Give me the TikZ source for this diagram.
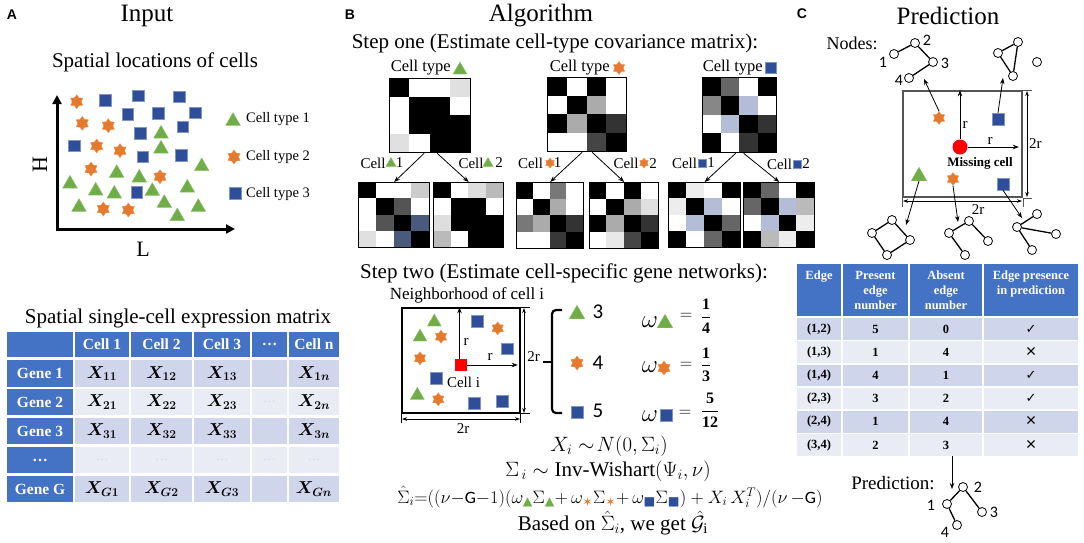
\documentclass[tikz,border=0pt]{standalone}
\usepackage{amsmath,bm}
\usepackage{fontspec}
\setmainfont{Liberation Serif}
\newfontfamily\sansf{Liberation Sans}
\newfontfamily\calib{Carlito}
\newfontfamily\symf{DejaVu Sans}
\usetikzlibrary{arrows.meta,shapes.geometric,calc}
\definecolor{tgreen}{HTML}{70AD47}
\definecolor{torange}{HTML}{E57A2E}
\definecolor{tblue}{HTML}{2F4E9A}
\definecolor{hblue}{HTML}{4472C4}
\definecolor{rdark}{HTML}{CFD5EA}
\definecolor{rlight}{HTML}{E9EBF5}
\definecolor{bgray}{HTML}{B3BED6}
\definecolor{slate}{HTML}{4A5A7C}
\definecolor{dimg}{HTML}{555555}
\definecolor{dotg}{HTML}{D4D7E6}
\newcommand\fsz[1]{\fontsize{#1}{#1}\selectfont}
\newcommand\Gtri{\text{\symf\textcolor{tgreen}{▲}}}
\newcommand\Ostar{\text{\symf\textcolor{torange}{✶}}}
\newcommand\Bsq{\text{\symf\textcolor{tblue}{■}}}
\newcommand\Gs{\text{\calib G}}
\newcommand\Xb[1]{$\bm{X_{#1}}$}
\newcommand\dotsg{\textcolor{dotg}{\fsz{13}…}}
\newcommand\ck{{\symf\mdseries\fsz{13}✓}}
\newcommand\xx{{\sansf\mdseries\fsz{18}×}}
\newcommand\covmat[6]{%
  \foreach \mcol [count=\k from 0] in {#6} {%
    \pgfmathsetmacro\mcx{#2+mod(\k,4)*#4/4}%
    \pgfmathsetmacro\mcy{#3+floor(\k/4)*#5/4}%
    \fill[\mcol] (\mcx,\mcy) rectangle ++({#4/4},{#5/4});
  }%
  \node[draw,line width=1.3,inner sep=0,minimum width=#4,minimum height=#5,anchor=north west] (#1) at (#2,#3) {};
}
\newcommand\rowA[8]{%
  \node[hcell,minimum width=66,minimum height=26.5] (A#1-0) at (40,#2) {#3};
  \node[dcell,fill=#4,minimum width=54,minimum height=26.5] (A#1-1) at (102,#2) {#5};
  \node[dcell,fill=#4,minimum width=61,minimum height=26.5] (A#1-2) at (161.5,#2) {#6};
  \node[dcell,fill=#4,minimum width=56,minimum height=26.5] (A#1-3) at (222,#2) {#7};
  \node[dcell,fill=#4,minimum width=35,minimum height=26.5] (A#1-4) at (269.5,#2) {\dotsg};
  \node[dcell,fill=#4,minimum width=50,minimum height=26.5] (A#1-5) at (314,#2) {#8};
}
\newcommand\rowC[7]{%
  \node[ccell,fill=#3,minimum width=44] (C#1-1) at (819,#2) {#4};
  \node[ccell,fill=#3,minimum width=65] (C#1-2) at (875.5,#2) {#5};
  \node[ccell,fill=#3,minimum width=72] (C#1-3) at (946,#2) {#6};
  \node[ccell,fill=#3,minimum width=94] (C#1-4) at (1031,#2) {#7};
}
\begin{document}
\begin{tikzpicture}[x=1pt,y=-1pt,
  tcell/.style={regular polygon,regular polygon sides=3,fill=tgreen,draw=tgreen!75!white,line width=0.4,inner sep=0,minimum size=#1,yshift={-#1/8}},
  tcell/.default=17,
  ocell/.style={star,star points=6,star point ratio=1.55,fill=torange,draw=torange!80!white,line width=0.4,inner sep=0,minimum size=#1},
  ocell/.default=14,
  bcell/.style={rectangle,fill=tblue,draw=tblue!60!white,line width=0.5,inner sep=0,minimum size=#1},
  bcell/.default=11.5,
  arr/.style={-{Stealth[length=6pt,width=4.5pt]},line width=0.8},
  dimline/.style={{Stealth[length=5pt,width=3.5pt]}-{Stealth[length=5pt,width=3.5pt]},line width=0.7},
  gnode/.style={circle,draw,fill=white,minimum size=9,inner sep=0,line width=0.8},
  gedge/.style={line width=1.3},
  hcell/.style={fill=hblue,inner sep=0,text=white,font=\bfseries\fsz{15.5}},
  dcell/.style={inner sep=0,font=\fsz{18}},
  ccell/.style={inner sep=0,minimum height=21.5,font=\bfseries\fsz{12.5}},
  ctext/.style={inner sep=0,text=white,align=center,font=\bfseries\fontsize{12.5}{15}\selectfont},
  glab/.style={inner sep=0,font=\calib\fsz{16}},
  lab/.style={inner sep=0,font=\fsz{15}},
  body/.style={font=\fsz{21}},
]
\fill[white] (0,0) rectangle (1084,542);
\useasboundingbox (0,0) rectangle (1084,542);

%================ Panel A ================
\node[font=\sansf\bfseries\fsz{14}] (lA) at (12,15) {A};
\node[font=\fsz{25}] (tA) at (147,16) {Input};
\node[body] (sA) at (155,62) {Spatial locations of cells};
\coordinate (ao) at (57,229);
\coordinate (ay) at (57,95);
\coordinate (ax) at (235,229);
\draw[line width=3,{Triangle[length=9pt,width=9pt]}-{Triangle[length=9pt,width=9pt]}] (ay) -- (ao) -- (ax);
\node[font=\fsz{22},rotate=90] (H) at (40,165) {H};
\node[font=\fsz{22}] (L) at (143,249) {L};
\foreach \x/\y [count=\i] in {76.7/101.7,82.3/123.3,108.3/125.7,96.7/146,120/150.7,91/169,160/176.7,103.3/209,128.3/210}
  \node[ocell] (aS\i) at (\x,\y) {};
\foreach \x/\y [count=\i] in {105.3/100,138.3/95.7,179/96.7,127.7/114,158.3/113.3,195/112.7,182.7/126.7,140/133.3,74.3/145.7,142.7/156.7,181/155,136.7/192.3}
  \node[bcell] (aQ\i) at (\x,\y) {};
\foreach \x/\y [count=\i] in {161/131.7,161/146.7,201.7/164.3,116.7/171,139.3/175.7,70/181.7,95.7/188.7,114.3/191.7,152.3/189,187.3/185.7,79/205,164.3/201,177.3/214.3,198.3/205}
  \node[tcell] (aT\i) at (\x,\y) {};
\node[tcell] (lg1) at (233,119) {};
\node[ocell] (lg2) at (234,157) {};
\node[bcell] (lg3) at (235,193) {};
\node[font=\fsz{14.5},anchor=west,inner sep=0] (lt1) at (246,119) {Cell type 1};
\node[font=\fsz{14.5},anchor=west,inner sep=0] (lt2) at (246,157) {Cell type 2};
\node[font=\fsz{14.5},anchor=west,inner sep=0] (lt3) at (246,194) {Cell type 3};

% table A
\node[body] (tabAt) at (178,318) {Spatial single-cell expression matrix};
\node[hcell,minimum width=66,minimum height=25] (A0-0) at (40,344.5) {};
\node[hcell,minimum width=54,minimum height=25] (A0-1) at (102,344.5) {Cell 1};
\node[hcell,minimum width=61,minimum height=25] (A0-2) at (161.5,344.5) {Cell 2};
\node[hcell,minimum width=56,minimum height=25] (A0-3) at (222,344.5) {Cell 3};
\node[hcell,minimum width=35,minimum height=25] (A0-4) at (269.5,344.5) {…};
\node[hcell,minimum width=50,minimum height=25] (A0-5) at (314,344.5) {Cell n};
\rowA{1}{373.5}{Gene 1}{rdark}{\Xb{11}}{\Xb{12}}{\Xb{13}}{\Xb{1n}}
\rowA{2}{402}{Gene 2}{rlight}{\Xb{21}}{\Xb{22}}{\Xb{23}}{\Xb{2n}}
\rowA{3}{431}{Gene 3}{rdark}{\Xb{31}}{\Xb{32}}{\Xb{33}}{\Xb{3n}}
\rowA{4}{460}{…}{rlight}{\dotsg}{\dotsg}{\dotsg}{\dotsg}
\rowA{5}{489}{Gene G}{rdark}{\Xb{G1}}{\Xb{G2}}{\Xb{G3}}{\Xb{Gn}}

%================ Panel B ================
\node[font=\sansf\bfseries\fsz{14}] (lB) at (350,15) {B};
\node[font=\fsz{25}] (tB) at (541,16) {Algorithm};
\node[body] (s1) at (555,43) {Step one (Estimate cell-type covariance matrix):};

% triangle type
\node[font=\fsz{16.5},anchor=east,inner sep=0] (ctl1) at (451,68) {Cell type};
\node[tcell=16] (ctt1) at (460,68) {};
\covmat{mT}{389}{78}{81}{74}{black,white,white,black!12,white,black,black,white,white,black,black,black,black!12,white,black,black}
\covmat{mT1}{358}{182}{71}{65}{black,white,white,black!20,white,black,black!67,white,white,black!67,black,slate,black!12,white,slate,black}
\covmat{mT2}{433}{182}{70}{65}{black,white,black!13,black!27,white,black,black,white,black!13,black,black,black,black!27,white,black,black}
\draw[arr] ([xshift=-6pt]mT.south) -- (mT1.north);
\draw[arr] ([xshift=7pt]mT.south) -- (mT2.north);
\node[lab] (cT1a) at (373,163) {Cell};
\node[tcell=12] (cT1b) at (391,162) {};
\node[lab] (cT1c) at (399.5,163) {1};
\node[lab] (cT2a) at (471,163) {Cell};
\node[tcell=12] (cT2b) at (488,162) {};
\node[lab] (cT2c) at (499,163) {2};

% star type
\node[font=\fsz{16.5},anchor=east,inner sep=0] (ctl2) at (610,68) {Cell type};
\node[ocell=13] (ctt2) at (619,68) {};
\covmat{mS}{547}{77}{79}{74}{black,white,black,white,white,black,black!33,white,black,black!33,black,black!80,white,white,black!73,black}
\covmat{mS1}{516}{182}{67}{66}{black,white,black!53,white,white,black,black!33,white,black!53,black!33,black,black!80,white,white,black!78,black}
\covmat{mS2}{589}{182}{69}{66}{black,white,black,white,white,black,black!33,black!12,black,black!33,black,black!80,white,black!9,black!73,black}
\draw[arr] ([xshift=-5pt]mS.south) -- (mS1.north);
\draw[arr] ([xshift=5pt]mS.south) -- (mS2.north);
\node[lab] (cS1a) at (530.5,163) {Cell};
\node[ocell=10] (cS1b) at (550,163) {};
\node[lab] (cS1c) at (557.5,163) {1};
\node[lab] (cS2a) at (626,163) {Cell};
\node[ocell=10] (cS2b) at (644,163) {};
\node[lab] (cS2c) at (653,163.5) {2};

% square type
\node[font=\fsz{16.5},anchor=east,inner sep=0] (ctl3) at (763,68) {Cell type};
\node[bcell=11] (ctt3) at (771,68) {};
\covmat{mQ}{702}{77}{74}{75}{black,black!60,white,black,black!47,black,bgray,white,white,bgray,black,black!80,black,white,black!80,black}
\covmat{mQ1}{668}{182}{72}{65}{black,black!7,white,black,black!7,black,bgray,white,white,bgray,black,black!60,black,white,black!60,black}
\covmat{mQ2}{743}{182}{71}{65}{black,black!60,white,black,black!60,black,bgray,black!27,white,bgray,black,black!7,black,black!27,black!7,black}
\draw[arr] ([xshift=-4pt]mQ.south) -- (mQ1.north);
\draw[arr] ([xshift=4pt]mQ.south) -- (mQ2.north);
\node[lab] (cQ1a) at (684.5,163) {Cell};
\node[bcell=8] (cQ1b) at (702,163) {};
\node[lab] (cQ1c) at (711,163) {1};
\node[lab] (cQ2a) at (779.5,164) {Cell};
\node[bcell=8] (cQ2b) at (797,164) {};
\node[lab] (cQ2c) at (806,164) {2};

% step two
\node[body] (s2) at (564,273) {Step two (Estimate cell-specific gene networks):};
\node[font=\fsz{17}] (nb) at (467,295) {Neighborhood of cell i};
\node[draw,line width=1.4,minimum width=118,minimum height=105,inner sep=0] (nbox) at (461,360.5) {};
\foreach \x/\y [count=\i] in {434.3/320,420/335,417.3/393.3}
  \node[tcell=16] (bT\i) at (\x,\y) {};
\foreach \x/\y [count=\i] in {441/336.7,420/358.3,438.3/399.3,497.7/328.3}
  \node[ocell=13] (bS\i) at (\x,\y) {};
\foreach \x/\y [count=\i] in {477.3/321,507.3/348.7,436/378.3,474.3/403.3,502.3/401}
  \node[bcell] (bQ\i) at (\x,\y) {};
\node[fill=red,minimum size=12,inner sep=0] (ci) at (461,365) {};
\draw[arr] ([xshift=-1.5pt]ci.north) -- ([xshift=-1.5pt]ci.north |- nbox.north);
\draw[arr] (ci.east) -- ([xshift=-3pt]ci.east -| nbox.east);
\node[lab] (br1) at (466,342) {r};
\node[lab] (br2) at (490,357) {r};
\node[lab] (bci) at (463.5,382) {Cell i};
\coordinate (bd1) at (524,308);
\coordinate (bd2) at (524,413);
\draw[line width=0.6] (nbox.north east) -- ++(9,0);
\draw[line width=0.6] (nbox.south east) -- ++(9,0);
\draw[dimline] (bd1) -- (bd2);
\node[lab] (b2r1) at (533.5,357) {2r};
\coordinate (bd3) at (402,419);
\coordinate (bd4) at (520,419);
\draw[line width=0.6] (nbox.south west) -- ++(0,9);
\draw[line width=0.6] (nbox.south east) -- ++(0,9);
\draw[dimline] (bd3) -- (bd4);
\node[lab] (b2r2) at (463,429) {2r};
% brace
\coordinate (brt) at (562,310);
\coordinate (brb) at (562,413);
\coordinate (brm) at (543,362);
\draw[line width=2.2,rounded corners=4] (brt) -- (552,310) -- (552,413) -- (brb);
\draw[line width=2.2] (552,362) -- (brm);
\node[tcell=18] (kT) at (577,312) {};
\node[ocell=14] (kS) at (577,363) {};
\node[bcell=12] (kQ) at (577,412) {};
\node[glab,font=\calib\fsz{21}] (kn1) at (598,312) {3};
\node[glab,font=\calib\fsz{21}] (kn2) at (598,363) {4};
\node[glab,font=\calib\fsz{21}] (kn3) at (598,411) {5};
% omegas
\node[font=\fsz{24},anchor=base,inner sep=0] (w1) at (650,327) {$\omega$};
\node[tcell=18] (w1s) at (665,321) {};
\node[font=\fsz{18}] (w1e) at (686,316) {$=$};
\node[font=\fsz{16}] (w1f) at (706,316) {$\displaystyle\frac{\mathbf{1}}{\mathbf{4}}$};
\node[font=\fsz{24},anchor=base,inner sep=0] (w2) at (650,372) {$\omega$};
\node[ocell=14] (w2s) at (664,368) {};
\node[font=\fsz{18}] (w2e) at (686,365) {$=$};
\node[font=\fsz{16}] (w2f) at (706,365) {$\displaystyle\frac{\mathbf{1}}{\mathbf{3}}$};
\node[font=\fsz{24},anchor=base,inner sep=0] (w3) at (650,421) {$\omega$};
\node[bcell=12] (w3s) at (666,415) {};
\node[font=\fsz{18}] (w3e) at (685,413) {$=$};
\node[font=\fsz{16}] (w3f) at (710,410) {$\displaystyle\frac{\mathbf{5}}{\mathbf{12}}$};
% formulas
\node[body,inner sep=0] (f1) at (609,446) {$X_i \sim\! N(0,\Sigma_i)$};
\node[body,inner sep=0] (f2) at (608,471) {$\Sigma_{\,i}\sim\text{Inv-Wishart}(\Psi_i,\nu)$};
\node[font=\fsz{20},inner sep=0] (f3) at (610,497) {\resizebox{425pt}{17pt}{$\hat{\Sigma}_i{=}((\nu{-}\Gs{-}1)(\omega_{\Gtri}\Sigma_{\Gtri}{+}\,\omega_{\Ostar}\Sigma_{\Ostar}{+}\,\omega_{\Bsq}\Sigma_{\Bsq})+X_i\,X_i^T)/(\nu\,{-}\Gs)$}};
\node[body,inner sep=0] (f4) at (613,523) {Based on $\hat{\Sigma}_i$, we get $\hat{\mathcal{G}}_{\mathrm{i}}$};

%================ Panel C ================
\node[font=\sansf\bfseries\fsz{14}] (lC) at (802,14) {C};
\node[font=\fsz{25}] (tC) at (948,16) {Prediction};
\node[font=\fsz{18}] (nodesl) at (852,43) {Nodes:};
% graph 1 (top left)
\foreach \n/\x/\y in {1/894/54,2/915/43,3/933/62,4/909/78}
  \node[gnode] (g1n\n) at (\x,\y) {};
\draw[gedge] (g1n1) -- (g1n2) -- (g1n3) -- (g1n4);
\node[glab] (g1l1) at (883,62) {1};
\node[glab] (g1l2) at (927,40) {2};
\node[glab] (g1l3) at (945,63) {3};
\node[glab] (g1l4) at (899,80) {4};
% graph 2 (top right)
\foreach \n/\x/\y in {1/998/53,2/1018/42,3/1013/76,4/1037/62}
  \node[gnode] (g2n\n) at (\x,\y) {};
\draw[gedge] (g2n1) -- (g2n2) -- (g2n3) -- (g2n1);
% box
\node[draw=dimg,line width=1.6,minimum width=119,minimum height=106,inner sep=0] (cbox) at (962.5,144) {};
\node[circle,fill=red,minimum size=15,inner sep=0] (mc) at (960,147) {};
\draw[arr] (mc.north) -- (mc.north |- cbox.north);
\draw[arr] (mc.east) -- ([xshift=-4pt]mc.east -| cbox.east);
\node[lab] (cr1) at (965,125) {r};
\node[lab] (cr2) at (990,141) {r};
\node[inner sep=0,font=\bfseries\fsz{13}] (mcl) at (980,163) {Missing cell};
\coordinate (cd1) at (1027,91);
\coordinate (cd2) at (1027,197);
\draw[line width=0.6,dimg] (cbox.north east) -- ++(9,0);
\draw[line width=0.6,dimg] (cbox.south east) -- ++(9,0);
\draw[dimline] (cd1) -- (cd2);
\node[lab,anchor=west] (c2r1) at (1029,144) {2r};
\coordinate (cd3) at (903,201);
\coordinate (cd4) at (1022,201);
\draw[line width=0.6,dimg] (cbox.south west) -- ++(0,9);
\draw[line width=0.6,dimg] (cbox.south east) -- ++(0,9);
\draw[dimline] (cd3) -- (cd4);
\node[lab] (c2r2) at (978,210) {2r};
\node[ocell=13] (cs1) at (939,118) {};
\node[bcell=12] (cq1) at (998,119) {};
\node[tcell=18] (ct1) at (919,174) {};
\node[ocell=13] (cs2) at (953,179) {};
\node[bcell=12] (cq2) at (1003,184) {};
% bottom graphs
\foreach \n/\x/\y in {1/872/233,2/892/220,3/910/240,4/887/255}
  \node[gnode] (g3n\n) at (\x,\y) {};
\draw[gedge] (g3n1) -- (g3n2) -- (g3n3) -- (g3n4) -- (g3n1);
\foreach \n/\x/\y in {1/949/233,2/969/221,3/988/241,4/965/255}
  \node[gnode] (g4n\n) at (\x,\y) {};
\draw[gedge] (g4n4) -- (g4n1) -- (g4n2) -- (g4n3);
\foreach \n/\x/\y in {1/1017/227,2/1037/214,3/1056/234,4/1032/250}
  \node[gnode] (g5n\n) at (\x,\y) {};
\draw[gedge] (g5n1) -- (g5n2);
\draw[gedge] (g5n1) -- (g5n3);
\draw[gedge] (g5n1) -- (g5n4);
% arrows from cells to graphs
\coordinate (ta1) at (924,79);
\coordinate (ta2) at (1003,78);
\coordinate (ta3) at (906,225);
\coordinate (ta4) at (958,222);
\coordinate (ta5) at (1022,218);
\draw[arr] (cs1.north) -- (ta1);
\draw[arr] (cq1.north) -- (ta2);
\draw[arr] (ct1.south) -- (ta3);
\draw[arr] (cs2.south) -- (ta4);
\draw[arr] (cq2.south) -- (ta5);
% table C
\node[fill=hblue,minimum width=44,minimum height=52,inner sep=0] (C0-1) at (819,290) {};
\node[fill=hblue,minimum width=65,minimum height=52,inner sep=0] (C0-2) at (875.5,290) {};
\node[fill=hblue,minimum width=72,minimum height=52,inner sep=0] (C0-3) at (946,290) {};
\node[fill=hblue,minimum width=94,minimum height=52,inner sep=0] (C0-4) at (1031,290) {};
\node[ctext,anchor=north] (C0-1t) at (819,271) {Edge};
\node[ctext,anchor=north] (C0-2t) at (875.5,271) {Present\\edge\\number};
\node[ctext,anchor=north] (C0-3t) at (946,271) {Absent\\edge\\number};
\node[ctext,anchor=north] (C0-4t) at (1031,271) {Edge presence\\in prediction};
\rowC{1}{329}{rdark}{(1,2)}{5}{0}{\ck}
\rowC{2}{352.2}{rlight}{(1,3)}{1}{4}{\xx}
\rowC{3}{375.4}{rdark}{(1,4)}{4}{1}{\ck}
\rowC{4}{398.6}{rlight}{(2,3)}{3}{2}{\ck}
\rowC{5}{421.8}{rdark}{(2,4)}{1}{4}{\xx}
\rowC{6}{445}{rlight}{(3,4)}{2}{3}{\xx}
% prediction
\coordinate (pa) at (952,489);
\draw[arr] (pa |- C6-3.south) -- (pa);
\node[font=\fsz{19}] (predl) at (893,483) {Prediction:};
\foreach \n/\x/\y in {1/947/504,2/963/487,3/982/512,4/957/525}
  \node[gnode] (pn\n) at (\x,\y) {};
\draw[gedge] (pn4) -- (pn1) -- (pn2) -- (pn3);
\node[glab] (pl1) at (931,505) {1};
\node[glab] (pl2) at (978,487) {2};
\node[glab] (pl3) at (994,512) {3};
\node[glab] (pl4) at (945,532) {4};
\end{tikzpicture}
\end{document}
